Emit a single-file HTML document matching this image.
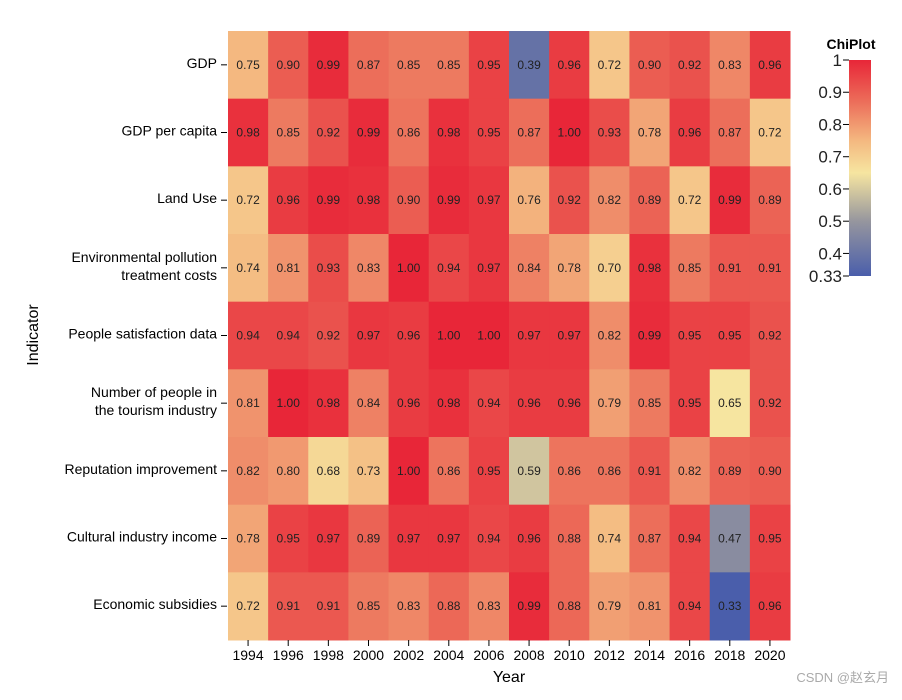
<!DOCTYPE html>
<html><head><meta charset="utf-8"><style>
body{margin:0;background:#fff;font-family:"Liberation Sans","Noto Sans CJK SC",sans-serif;}
svg text{font-family:"Liberation Sans","Noto Sans CJK SC",sans-serif;}
</style></head><body>
<svg id="chart" width="902" height="695" xmlns="http://www.w3.org/2000/svg"></svg>
<script>
const years = ["1994","1996","1998","2000","2002","2004","2006","2008","2010","2012","2014","2016","2018","2020"];
const indicators = ["GDP","GDP per capita","Land Use","Environmental pollution|treatment costs","People satisfaction data","Number of people in|the tourism industry","Reputation improvement","Cultural industry income","Economic subsidies"];
const rowGDP = [0.75,0.90,0.99,0.87,0.85,0.85,0.95,0.39,0.96,0.72,0.90,0.92,0.83,0.96];
const rowGDPpc = [0.98,0.85,0.92,0.99,0.86,0.98,0.95,0.87,1.00,0.93,0.78,0.96,0.87,0.72];
const rowLand = [0.72,0.96,0.99,0.98,0.90,0.99,0.97,0.76,0.92,0.82,0.89,0.72,0.99,0.89];
const rowEnv = [0.74,0.81,0.93,0.83,1.00,0.94,0.97,0.84,0.78,0.70,0.98,0.85,0.91,0.91];
const rowSat = [0.94,0.94,0.92,0.97,0.96,1.00,1.00,0.97,0.97,0.82,0.99,0.95,0.95,0.92];
const rowTour = [0.81,1.00,0.98,0.84,0.96,0.98,0.94,0.96,0.96,0.79,0.85,0.95,0.65,0.92];
const rowRep = [0.82,0.80,0.68,0.73,1.00,0.86,0.95,0.59,0.86,0.86,0.91,0.82,0.89,0.90];
const rowCult = [0.78,0.95,0.97,0.89,0.97,0.97,0.94,0.96,0.88,0.74,0.87,0.94,0.47,0.95];
const rowSub = [0.72,0.91,0.91,0.85,0.83,0.88,0.83,0.99,0.88,0.79,0.81,0.94,0.33,0.96];
const values = [rowGDP,rowGDPpc,rowLand,rowEnv,rowSat,rowTour,rowRep,rowCult,rowSub];
const vMin = 0.33, vMax = 1;

const svg = document.getElementById('chart');
const NS = "http://www.w3.org/2000/svg";
const X0 = 228, X1 = 790, Y0 = 31, Y1 = 640;
const cw = (X1 - X0) / years.length, ch = (Y1 - Y0) / indicators.length;
const xPos = i => X0 + i * cw;
const yPos = j => Y0 + j * ch;
const stops = [[0.33,[74,94,171]],[0.5,[150,150,158]],[0.65,[246,229,160]],[0.75,[244,184,128]],[0.87,[236,110,90]],[1,[232,38,56]]];
function color(v){
  for(let i=1;i<stops.length;i++){
    if(v<=stops[i][0]){
      const a=stops[i-1],b=stops[i];const t=(v-a[0])/(b[0]-a[0]);
      return 'rgb('+a[1].map((c,k)=>Math.round(c+(b[1][k]-c)*t)).join(',')+')';
    }
  }
  return 'rgb(232,38,56)';
}
function el(tag, attrs, text){
  const e=document.createElementNS(NS,tag);
  for(const k in attrs) e.setAttribute(k,attrs[k]);
  if(text!==undefined) e.textContent=text;
  svg.appendChild(e); return e;
}
values.forEach((row,j)=>{
  row.forEach((v,i)=>{
    const r=el('rect',{x:xPos(i),y:yPos(j),width:cw+0.5,height:ch+0.5,fill:color(v)});
    
    
    const t=el('text',{x:xPos(i)+cw/2,y:yPos(j)+ch/2+4,'text-anchor':'middle','font-size':12,fill:'#222'},v.toFixed(2));
    
    
  });
});
indicators.forEach((lab,j)=>{
  const cy=yPos(j)+ch/2;
  el('line',{x1:X0-7,x2:X0-1,y1:cy,y2:cy,stroke:'#000'});
  const parts=lab.split('|');
  parts.forEach((p,k)=>{
    const t=el('text',{x:X0-11,y:cy+3+(k-(parts.length-1)/2)*18,'text-anchor':'end','font-size':14,fill:'#000'},p);
    
    
  });
});
years.forEach((y,i)=>{
  const cx=xPos(i)+cw/2;
  el('line',{x1:cx,x2:cx,y1:Y1,y2:Y1+6,stroke:'#000'});
  const t=el('text',{x:cx,y:Y1+20,'text-anchor':'middle','font-size':14,fill:'#000'},y);
  
  
});
let t=el('text',{x:509,y:682,'text-anchor':'middle','font-size':16},'Year');

t=el('text',{x:0,y:0,'text-anchor':'middle','font-size':16,transform:'translate(38,335) rotate(-90)'},'Indicator');

// colorbar
const defs=el('defs',{});
const g=document.createElementNS(NS,'linearGradient');
g.setAttribute('id','cb');g.setAttribute('x1','0');g.setAttribute('y1','1');g.setAttribute('x2','0');g.setAttribute('y2','0');
stops.forEach(s=>{const st=document.createElementNS(NS,'stop');st.setAttribute('offset',(s[0]-vMin)/(vMax-vMin));st.setAttribute('stop-color','rgb('+s[1].join(',')+')');g.appendChild(st);});
defs.appendChild(g);
const CB0=60, CB1=276;
const cbY=v=>CB1-(v-vMin)/(vMax-vMin)*(CB1-CB0);
const cb=el('rect',{x:849,y:CB0,width:22,height:CB1-CB0,fill:'url(#cb)'});

t=el('text',{x:851,y:49,'text-anchor':'middle','font-size':14,'font-weight':'bold'},'ChiPlot');

const cbTicks=[1,0.9,0.8,0.7,0.6,0.5,0.4,0.33];
cbTicks.forEach(v=>{
  const y=cbY(v);
  el('line',{x1:843,x2:849,y1:y,y2:y,stroke:'#000'});
  const tt=el('text',{x:842,y:y+6,'text-anchor':'end','font-size':17,fill:'#222'},String(v));
  
  
});
t=el('text',{x:889,y:682,'text-anchor':'end','font-size':13,fill:'#aaa'},'CSDN @赵玄月');

</script>
</body></html>
